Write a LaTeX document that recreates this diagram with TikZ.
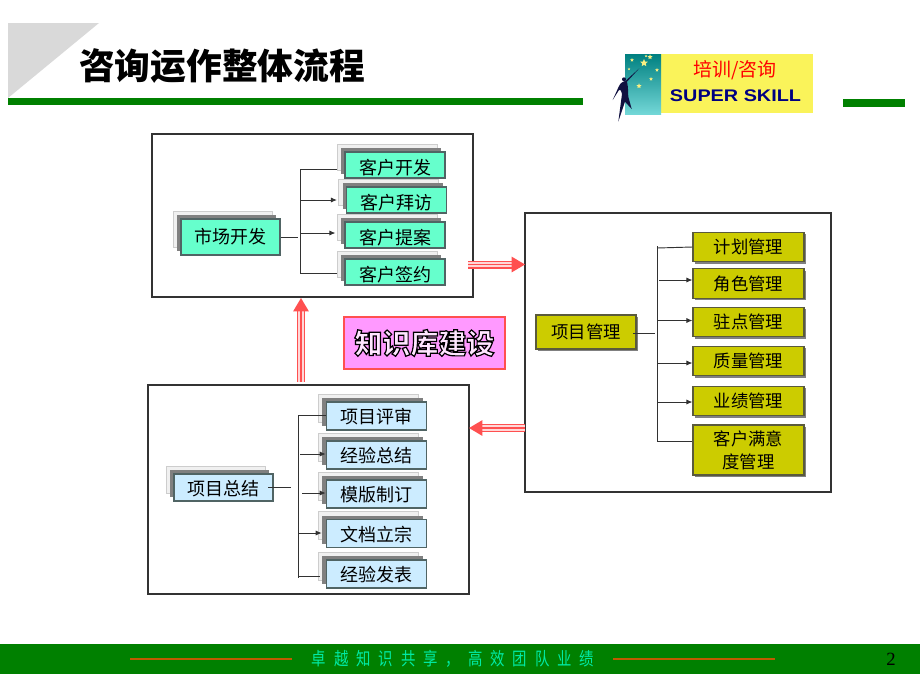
\documentclass[tikz,border=0pt]{standalone}
\usepackage{fontspec}
\setmainfont{Noto Sans CJK SC}
\newfontfamily\logofont[FakeStretch=1.18]{Liberation Sans}
\newfontfamily\pagefont{Liberation Serif}
\newfontfamily\footfont[FakeStretch=0.8,LetterSpace=44]{Noto Sans CJK SC}
\newfontfamily\badgefont{Noto Sans CJK SC Black}
\usetikzlibrary{arrows.meta,shadows,shapes.geometric}
\definecolor{barGreen}{RGB}{0,128,0}
\definecolor{tealFill}{RGB}{102,255,204}
\definecolor{blueFill}{RGB}{204,236,255}
\definecolor{oliveFill}{RGB}{204,204,0}
\definecolor{arrowRed}{RGB}{255,80,80}
\begin{document}
\begin{tikzpicture}[x=0.75pt,y=0.75pt,yscale=-1,xscale=1,
	panel/.style={draw={rgb,255:red,51;green,51;blue,51},line width=0.9pt},
	layered/.style={draw={rgb,255:red,80;green,100;blue,100},line width=0.8pt,text=black,inner sep=0pt,font=\fontsize{13.5}{16}\selectfont,
		general shadow={shadow xshift=-6pt,shadow yshift=6pt,fill={rgb,255:red,240;green,240;blue,240},draw={rgb,255:red,205;green,205;blue,205},line width=0.75pt},
		general shadow={shadow xshift=-3pt,shadow yshift=3pt,fill={rgb,255:red,128;green,128;blue,128}}},
	tealbox/.style={layered,fill=tealFill,minimum width=75pt,minimum height=19.5pt,text height=14.5pt,text depth=0.8pt},
	bluebox/.style={layered,fill=blueFill,minimum width=75.4pt,minimum height=21pt,text height=12.5pt,text depth=1pt},
	olivebox/.style={draw={rgb,255:red,90;green,90;blue,60},line width=0.8pt,fill=oliveFill,text=black,inner sep=0pt,align=center,
		font=\fontsize{13}{17}\selectfont,minimum width=83.25pt,minimum height=22pt,
		general shadow={shadow xshift=1.5pt,shadow yshift=-1.5pt,fill={rgb,255:red,128;green,128;blue,128}}},
	branch/.style={line width=0.7pt,draw={rgb,255:red,50;green,50;blue,50}},
	pointer/.style={branch,-{Latex[length=4.5pt,width=3.8pt]}},
	triple/.style={draw=arrowRed,line width=6pt,shorten >=9pt,
		postaction={draw={rgb,255:red,255;green,215;blue,215},line width=3.9pt,shorten >=9pt},
		postaction={draw=arrowRed,line width=1.3pt,-{Triangle[length=10pt,width=11.5pt]},shorten >=0pt}},
	logostar/.style={star,star points=5,star point ratio=2.2,fill={rgb,255:red,250;green,240;blue,130},inner sep=0pt,minimum size=4pt}]
	\useasboundingbox (0,0) rectangle (920,690);

	%Header
	\fill [fill={rgb,255:red,217;green,217;blue,217}] (8,23) -- (99,23) -- (8,98) -- cycle ;
	\fill [barGreen] (8,98) rectangle (583,105) ;
	\fill [barGreen] (843,99) rectangle (905,107) ;
	\node (title) at (222,66) {\fontsize{26.8}{30}\selectfont\bfseries 咨询运作整体流程};

	%Logo
	\fill [fill={rgb,255:red,250;green,243;blue,90}] (661,54) rectangle (813,113) ;
	\shade [top color={rgb,255:red,0;green,128;blue,128},bottom color={rgb,255:red,115;green,215;blue,215}] (625,54) rectangle (661,114) ;
	\foreach \sx/\sy/\sz [count=\i] in {644/63/6,650/57/4,632/60/3,657/70/3,651/79/3,639/86/4,629/69/2,646/56/2}
		\node [logostar,minimum size=\sz pt] (star\i) at (\sx,\sy) {};
	\fill [fill={rgb,255:red,16;green,16;blue,64}] (639.3,68.3) -- (627,81.7) .. controls (628.5,88) and (628,94) .. (628.3,96.7) -- (631.7,109) -- (625,101.7) -- (618.3,121.7) -- (622,94) .. controls (621,90) and (620,89) .. (619,90) -- (612.7,100) -- (619,86) .. controls (621,82) and (623,82) .. (626,80.5) -- cycle ;
	\fill [fill={rgb,255:red,16;green,16;blue,64}] (624,79.3) circle [radius=2] ;
	\node [text={rgb,255:red,255;green,0;blue,0}] (logocn) at (735,70) {\fontsize{14.2}{16}\selectfont 培训/咨询};
	\node [text={rgb,255:red,0;green,0;blue,128}] (logoen) at (735.5,96) {\logofont\fontsize{12.6}{15}\selectfont\bfseries SUPER SKILL};

	%Panels
	\draw [panel] (152,134) rectangle (473,297) ;
	\draw [panel] (525,213) rectangle (831,492) ;
	\draw [panel] (148,385) rectangle (469,594) ;

	%Market group
	\node [tealbox,minimum width=74.25pt,minimum height=27pt,text height=10.5pt,text depth=0.5pt] (market) at (230.5,237) {市场开发};
	\node [tealbox] (visit1) at (395,165) {客户开发};
	\node [tealbox] (visit2) at (396.5,200) {客户拜访};
	\node [tealbox] (visit3) at (395,235) {客户提案};
	\node [tealbox] (visit4) at (395,272) {客户签约};
	\coordinate (mtop) at (300,169);
	\coordinate (mbot) at (300,273);
	\coordinate (mgap) at (298,237);
	\coordinate (marr2) at (301,200);
	\coordinate (marr3) at (301,233);
	\draw [branch] (market.east) -- (mgap) ;
	\draw [branch] (337,169) -- (mtop) -- (mbot) -- (337,273) ;
	\draw [pointer,shorten >=6.75pt] (marr2) -- (marr2 -| visit2.west) ;
	\draw [pointer,shorten >=6.75pt] (marr3) -- (marr3 -| visit3.west) ;

	%Project group
	\node [olivebox,minimum width=75pt,minimum height=25.5pt] (project) at (586,332) {项目管理};
	\node [olivebox] (plan) at (748.5,247) {计划管理};
	\node [olivebox] (role) at (748.5,283.5) {角色管理};
	\node [olivebox] (site) at (748.5,322) {驻点管理};
	\node [olivebox] (quality) at (748.5,361) {质量管理};
	\node [olivebox] (result) at (748.5,401) {业绩管理};
	\node [olivebox,minimum height=37.5pt] (client) at (748.5,450) {客户满意\\度管理};
	\coordinate (ptop) at (657,246);
	\coordinate (pbot) at (657,441);
	\coordinate (pgap) at (655,333);
	\coordinate (parr2) at (659,280);
	\coordinate (parr3) at (657,320.5);
	\coordinate (parr4) at (657,363);
	\coordinate (parr5) at (657,402);
	\draw [branch] (633,333) -- (pgap) ;
	\draw [branch] (ptop) -- (pbot) -- (pbot -| client.west) ;
	\draw [branch] (657,248) -- (plan.west) ;
	\draw [pointer] (parr2) -- (parr2 -| role.west) ;
	\draw [pointer] (parr3) -- (parr3 -| site.west) ;
	\draw [pointer] (parr4) -- (parr4 -| quality.west) ;
	\draw [pointer] (parr5) -- (parr5 -| result.west) ;

	%Review group
	\node [bluebox,minimum width=74.25pt,minimum height=20.25pt] (review) at (223.5,487.5) {项目总结};
	\node [bluebox] (item1) at (376.5,416) {项目评审};
	\node [bluebox] (item2) at (376.5,455) {经验总结};
	\node [bluebox] (item3) at (376.5,494) {模版制订};
	\node [bluebox] (item4) at (376.5,533.5) {文档立宗};
	\node [bluebox] (item5) at (376.5,574) {经验发表};
	\coordinate (rtop) at (298,415);
	\coordinate (rbot) at (298,578);
	\coordinate (rgap) at (291,487);
	\coordinate (rarr2) at (300,454);
	\coordinate (rarr3) at (302,493);
	\coordinate (rarr4) at (298,533);
	\draw [branch] (268,487) -- (rgap) ;
	\draw [branch] (rtop -| item1.west) -- (rtop) -- (rbot) ;
	\draw [branch] (298,576) -- (320,576) ;
	\draw [pointer] (rarr2) -- (rarr2 -| item2.west) ;
	\draw [pointer] (rarr3) -- (rarr3 -| item3.west) ;
	\draw [pointer,shorten >=3pt] (rarr4) -- (rarr4 -| item4.west) ;

	%Centre label
	\node [draw=arrowRed,line width=0.9pt,fill={rgb,255:red,255;green,153;blue,255},minimum width=120.75pt,minimum height=39pt,inner sep=0pt] (base) at (424.5,343)
		{\badgefont\fontsize{21}{24}\selectfont\special{pdf:code q 2 Tr 0.9 w 0 0 0 RG 1 0.9 1 rg}知识库建设\special{pdf:code Q}};

	%Red arrows
	\coordinate (atop) at (468,264.5);
	\coordinate (btop) at (525,264.5);
	\coordinate (aleft) at (525,428);
	\coordinate (bleft) at (469,428);
	\coordinate (aup) at (301,382);
	\coordinate (bup) at (301,298);
	\path [triple] (atop) -- (btop) ;
	\path [triple] (aleft) -- (bleft) ;
	\path [triple] (aup) -- (bup) ;

	%Footer
	\fill [barGreen] (0,644) rectangle (920,674) ;
	\coordinate (fl1) at (130,659);
	\coordinate (fl2) at (292,659);
	\coordinate (fr1) at (613,659);
	\coordinate (fr2) at (775,659);
	\draw [draw={rgb,255:red,190;green,90;blue,0},line width=0.8pt] (fl1) -- (fl2) ;
	\draw [draw={rgb,255:red,190;green,90;blue,0},line width=0.8pt] (fr1) -- (fr2) ;
	\node [text={rgb,255:red,0;green,235;blue,165}] (slogan) at (453,659) {\footfont\fontsize{13.5}{14}\selectfont 卓越知识共享，高效团队业绩};
	\node [text=black] (pageno) at (891,659) {\pagefont\fontsize{14}{16}\selectfont 2};
\end{tikzpicture}
\end{document}
